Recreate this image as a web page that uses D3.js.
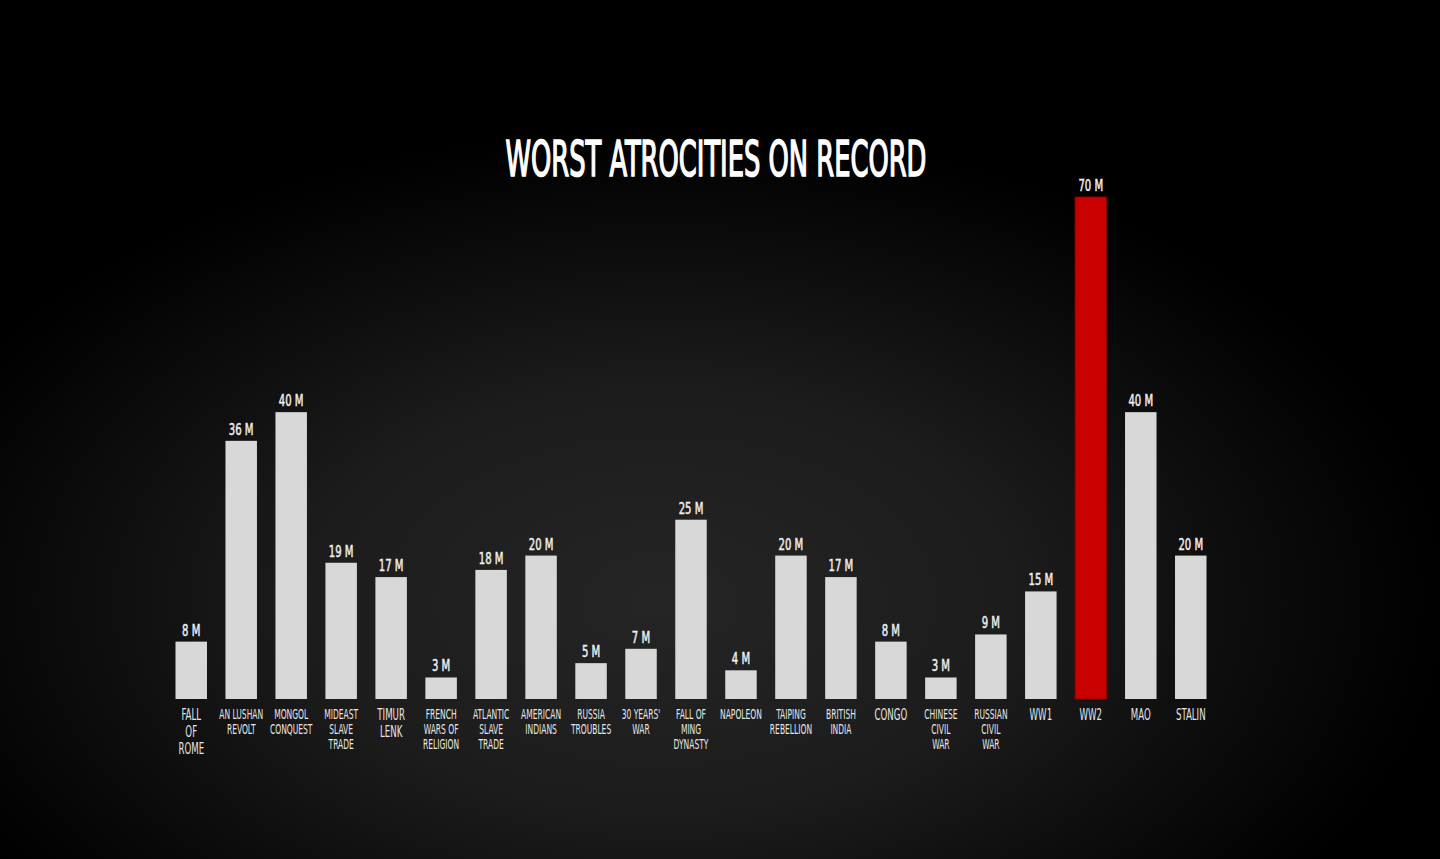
<!DOCTYPE html>
<html>
<head>
<meta charset="utf-8">
<script src="https://cdn.jsdelivr.net/npm/d3@7"></script>
<style>
  html, body { margin: 0; padding: 0; background: #000; overflow: hidden; }
  text { font-family: "Liberation Sans Narrow", "DejaVu Sans Condensed", "Roboto Condensed", sans-serif; }
</style>
</head>
<body>
<div id="chart"></div>
<script>
const categories = [
  "FALL|OF|ROME", "AN LUSHAN|REVOLT", "MONGOL|CONQUEST", "MIDEAST|SLAVE|TRADE",
  "TIMUR|LENK", "FRENCH|WARS OF|RELIGION", "ATLANTIC|SLAVE|TRADE", "AMERICAN|INDIANS",
  "RUSSIA|TROUBLES", "30 YEARS'|WAR", "FALL OF|MING|DYNASTY", "NAPOLEON",
  "TAIPING|REBELLION", "BRITISH|INDIA", "CONGO", "CHINESE|CIVIL|WAR",
  "RUSSIAN|CIVIL|WAR", "WW1", "WW2", "MAO", "STALIN"
]
const deaths = [8, 36, 40, 19, 17, 3, 18, 20, 5, 7, 25, 4, 20, 17, 8, 3, 9, 15, 70, 40, 20]
const valueLabels = deaths.map(d => d + " M")
const highlight = "WW2"
const bigLabels = ["FALL|OF|ROME", "TIMUR|LENK", "CONGO", "WW1", "WW2", "MAO", "STALIN"]
const title = "WORST ATROCITIES ON RECORD"

const width = 1440
const height = 859

const data = categories.map((c, i) => ({ category: c, value: deaths[i], label: valueLabels[i] }))

const svg = d3.select("#chart")
  .append("svg")
  .attr("width", width)
  .attr("height", height)

// background glow
const defs = svg.append("defs")
const grad = defs.append("radialGradient")
  .attr("id", "glow")
  .attr("gradientUnits", "userSpaceOnUse")
  .attr("cx", 660).attr("cy", 600)
  .attr("r", 780)
  .attr("gradientTransform", "translate(660,600) scale(1,0.6) translate(-660,-600)")
grad.append("stop").attr("offset", "0%").attr("stop-color", "#252525")
grad.append("stop").attr("offset", "45%").attr("stop-color", "#1c1c1c")
grad.append("stop").attr("offset", "72%").attr("stop-color", "#0e0e0e")
grad.append("stop").attr("offset", "100%").attr("stop-color", "#000")

svg.append("rect")
  .attr("width", width).attr("height", height)
  .attr("fill", "#000")
svg.append("rect")
  .attr("width", width).attr("height", height)
  .attr("fill", "url(#glow)")

/* SCALES */
const xScale = d3.scaleBand()
  .domain(categories)
  .range([166, 1216])
  .paddingInner(0.37)
  .paddingOuter(0.19)

const yScale = d3.scaleLinear()
  .domain([0, 70])
  .range([699, 197])

// title, squeezed to the narrow look of the original
const titleG = svg.append("g")
const titleText = titleG.append("text")
  .attr("text-anchor", "middle")
  .style("font-size", "49px")
  .style("fill", "#fff")
  .style("stroke", "#fff")
  .style("stroke-width", 1.6)
  .text(title)
const titleLen = titleText.node().getComputedTextLength()
titleG.attr("transform", `translate(716,176) scale(${421 / titleLen},1)`)

// BARS
svg.selectAll("rect.bar")
  .data(data)
  .join("rect")
  .attr("class", "bar")
  .attr("x", d => xScale(d.category))
  .attr("y", d => yScale(d.value))
  .attr("width", xScale.bandwidth())
  .attr("height", d => yScale(0) - yScale(d.value))
  .attr("fill", d => d.category === highlight ? "#c80000" : "#d8d8d8")
  .attr("stroke", d => d.category === highlight ? "#8a0000" : "none")
  .attr("stroke-width", 1)

// value labels
svg.selectAll("g.value")
  .data(data)
  .join("g")
  .attr("class", "value")
  .attr("transform", d => `translate(${xScale(d.category) + xScale.bandwidth() / 2},${yScale(d.value) - 6}) scale(0.7,1)`)
  .append("text")
  .attr("text-anchor", "middle")
  .style("font-size", "16px")
  .style("fill", "#eee")
  .style("stroke", "#eee")
  .style("stroke-width", 0.5)
  .text(d => d.label)

// category labels
const catG = svg.selectAll("g.cat")
  .data(data)
  .join("g")
  .attr("class", "cat")
  .attr("transform", d => `translate(${xScale(d.category) + xScale.bandwidth() / 2},0) scale(0.6,1)`)

catG.append("text")
  .attr("text-anchor", "middle")
  .style("font-size", d => bigLabels.includes(d.category) ? "16px" : "14px")
  .style("fill", "#e6e6e6")
  .selectAll("tspan")
  .data(d => d.category.split("|").map(line => ({ line, big: bigLabels.includes(d.category) })))
  .join("tspan")
  .attr("x", 0)
  .attr("y", (t, i) => (t.big ? 720 : 719) + i * (t.big ? 17 : 15))
  .text(t => t.line)
</script>
</body>
</html>
